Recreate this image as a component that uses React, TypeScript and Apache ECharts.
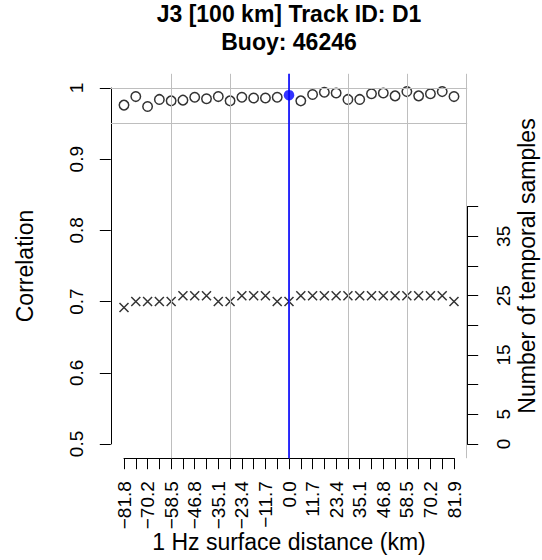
import React, { useEffect, useRef } from "react";
import * as echarts from "echarts";

// ---- data ----
const distances = [
  -81.8, -76.0, -70.2, -64.3, -58.5, -52.6, -46.8, -40.9, -35.1, -29.2, -23.4, -17.5, -11.7, -5.8,
  0.0, 5.8, 11.7, 17.5, 23.4, 29.2, 35.1, 40.9, 46.8, 52.6, 58.5, 64.3, 70.2, 76.0, 81.9,
];
const correlation = [
  0.976, 0.988, 0.974, 0.984, 0.982, 0.983, 0.987, 0.985, 0.988, 0.982, 0.987, 0.986, 0.986, 0.987,
  0.990, 0.982, 0.991, 0.994, 0.993, 0.984, 0.984, 0.992, 0.993, 0.989, 0.995, 0.989, 0.992, 0.995,
  0.988,
];
const samples = [
  23, 24, 24, 24, 24, 25, 25, 25, 24, 24, 25, 25, 25, 24, 24, 25, 25, 25, 25, 25, 25, 25, 25, 25, 25,
  25, 25, 25, 24,
];
const gridXLines = [5, 10, 15, 20, 25, 30];
const gridYLines = [0.95, 1];
const corrTicks = { min: 0.5, max: 1, interval: 0.1 };
const sampleTicks = { min: 0, max: 40, interval: 5 };
const sampleLabels = [0, 5, 15, 25, 35];
const titleText = "J3 [100 km] Track ID: D1\nBuoy: 46246";

const FONT = "'Liberation Sans', Arial, Helvetica, sans-serif";

function fmtDist(d: number): string {
  const s = Math.abs(d).toFixed(1);
  return d < 0 ? "\u2212" + s : s;
}

export default function App() {
  const ref = useRef<HTMLDivElement>(null);
  const errRef = useRef<HTMLPreElement>(null);

  useEffect(() => {
    if (!ref.current) return;
    const chart = echarts.init(ref.current, null, { renderer: "svg" });

    const n = distances.length;
    const pos = distances.map((_, i) => i + 1);
    const zeroPos = distances.indexOf(0) + 1;

    // R-style 4% axis extension
    const xExt = (n - 1) * 0.04;
    const xMin = 1 - xExt;
    const xMax = n + xExt;
    const yExtL = (corrTicks.max - corrTicks.min) * 0.04;
    const yMinA = corrTicks.min - yExtL;
    const yMaxA = corrTicks.max + yExtL;
    const rMaxLim = 60;
    const rMin = -rMaxLim * 0.04;
    const rMax = rMaxLim * 1.04;

    // plot region (px)
    const L = 110.8, W = 356.4, T = 73.8, H = 384.4;
    const yA = (v: number) => T + ((yMaxA - v) / (yMaxA - yMinA)) * H;
    const yR = (v: number) => T + ((rMax - v) / (rMax - rMin)) * H;
    const xP = (v: number) => L + ((v - xMin) / (xMax - xMin)) * W;

    const axisBlack = { show: true, onZero: false, lineStyle: { color: "#000", width: 1 } };
    const hiddenX = (gridIndex: number) => ({
      type: "value",
      gridIndex,
      min: xMin,
      max: xMax,
      show: false,
      axisLine: { onZero: false },
    });
    const gridBase = { containLabel: false, outerBoundsMode: "none" };

    const option: any = {
      animation: false,
      textStyle: { fontFamily: FONT, color: "#000" },
      title: {
        text: titleText,
        left: xP((xMin + xMax) / 2),
        top: 0,
        textAlign: "center",
        padding: 0,
        textStyle: { fontSize: 23, fontWeight: "bold", lineHeight: 28, color: "#000", fontFamily: FONT },
      },
      grid: [
        { ...gridBase, left: L, top: T, width: W, height: H },
        { ...gridBase, left: L, top: yA(corrTicks.max), width: W, height: yA(corrTicks.min) - yA(corrTicks.max) },
        { ...gridBase, left: L, top: yR(sampleTicks.max), width: W, height: yR(sampleTicks.min) - yR(sampleTicks.max) },
        { ...gridBase, left: xP(1), top: T, width: xP(n) - xP(1), height: H },
      ],
      xAxis: [
        hiddenX(0),
        hiddenX(1),
        hiddenX(2),
        {
          type: "category",
          gridIndex: 3,
          data: distances.map(fmtDist),
          boundaryGap: false,
          position: "bottom",
          axisLine: axisBlack,
          axisTick: { show: true, interval: 0, length: 11, inside: false, lineStyle: { color: "#000" } },
          axisLabel: { interval: 1, rotate: 90, margin: 23, fontSize: 19, color: "#000", fontFamily: FONT },
          splitLine: { show: false },
          name: "1 Hz surface distance (km)",
          nameLocation: "middle",
          nameGap: 72,
          nameMoveOverlap: false,
          nameTextStyle: { fontSize: 23, color: "#000", fontFamily: FONT },
        },
      ],
      yAxis: [
        {
          type: "value",
          gridIndex: 0,
          position: "left",
          min: yMinA,
          max: yMaxA,
          axisLine: { show: false, onZero: false },
          axisTick: { show: false },
          axisLabel: { show: false },
          splitLine: { show: false },
          name: "Correlation",
          nameLocation: "middle",
          nameRotate: 90,
          nameGap: 74,
          nameMoveOverlap: false,
          nameTextStyle: { fontSize: 23, color: "#000", fontFamily: FONT },
        },
        {
          type: "value",
          gridIndex: 0,
          position: "right",
          min: rMin,
          max: rMax,
          axisLine: { show: false, onZero: false },
          axisTick: { show: false },
          axisLabel: { show: false },
          splitLine: { show: false },
          name: "Number of temporal samples",
          nameLocation: "middle",
          nameRotate: 90,
          nameGap: 48,
          nameMoveOverlap: false,
          nameTextStyle: { fontSize: 23, color: "#000", fontFamily: FONT },
        },
        {
          type: "value",
          gridIndex: 1,
          position: "left",
          min: corrTicks.min,
          max: corrTicks.max,
          interval: corrTicks.interval,
          axisLine: axisBlack,
          axisTick: { show: true, length: 11, inside: false, lineStyle: { color: "#000" } },
          axisLabel: { rotate: 90, margin: 25, fontSize: 19, color: "#000", fontFamily: FONT },
          splitLine: { show: false },
        },
        {
          type: "value",
          gridIndex: 2,
          position: "right",
          min: sampleTicks.min,
          max: sampleTicks.max,
          interval: sampleTicks.interval,
          axisLine: axisBlack,
          axisTick: { show: true, length: 11, inside: false, lineStyle: { color: "#000" } },
          axisLabel: {
            rotate: 90,
            margin: 27,
            fontSize: 19,
            color: "#000",
            fontFamily: FONT,
            formatter: (v: number) => (sampleLabels.indexOf(Math.round(v)) >= 0 ? String(Math.round(v)) : ""),
          },
          splitLine: { show: false },
        },
        {
          type: "value",
          gridIndex: 3,
          min: 0,
          max: 1,
          show: false,
          axisLine: { onZero: false },
        },
      ],
      series: [
        {
          type: "scatter",
          xAxisIndex: 0,
          yAxisIndex: 0,
          symbol: "circle",
          symbolSize: 9.5,
          itemStyle: { color: "rgba(0,0,0,0)", borderColor: "#000", borderWidth: 1.5 },
          data: pos.filter((p) => p !== zeroPos).map((p) => [p, correlation[p - 1]]),
          markLine: {
            silent: true,
            symbol: ["none", "none"],
            label: { show: false },
            lineStyle: { color: "#bebebe", width: 1, type: "solid" },
            data: [
              ...gridXLines.map((x) => ({ xAxis: x })),
              ...gridYLines.map((y) => ({ yAxis: y })),
            ],
          },
          z: 3,
        },
        {
          type: "scatter",
          xAxisIndex: 2,
          yAxisIndex: 3,
          symbol: "path://M0,0L10,10M10,0L0,10",
          symbolSize: 9,
          itemStyle: { color: "rgba(0,0,0,0)", borderColor: "#000", borderWidth: 1.5 },
          data: pos.map((p) => [p, samples[p - 1]]),
          z: 3,
        },
        {
          type: "scatter",
          xAxisIndex: 0,
          yAxisIndex: 0,
          symbol: "circle",
          symbolSize: 10.5,
          itemStyle: { color: "#0000ff" },
          data: [[zeroPos, correlation[zeroPos - 1]]],
          markLine: {
            silent: true,
            symbol: ["none", "none"],
            label: { show: false },
            lineStyle: { color: "#0000ff", width: 1.6, type: "solid" },
            data: [{ xAxis: zeroPos }],
          },
          z: 5,
        },
      ],
    };

    try {
      chart.setOption(option);
    } catch (e: any) {
      if (errRef.current) errRef.current.textContent = String(e && e.stack ? e.stack : e);
    }
    return () => chart.dispose();
  }, []);

  return (
    <>
      <div
        ref={ref}
        style={{ position: "fixed", left: 0, top: 0, width: 542, height: 560, background: "#fff" }}
      />
      <pre ref={errRef} style={{ position: "fixed", left: 0, top: 0, fontSize: 9, margin: 0, whiteSpace: "pre-wrap" }} />
    </>
  );
}
